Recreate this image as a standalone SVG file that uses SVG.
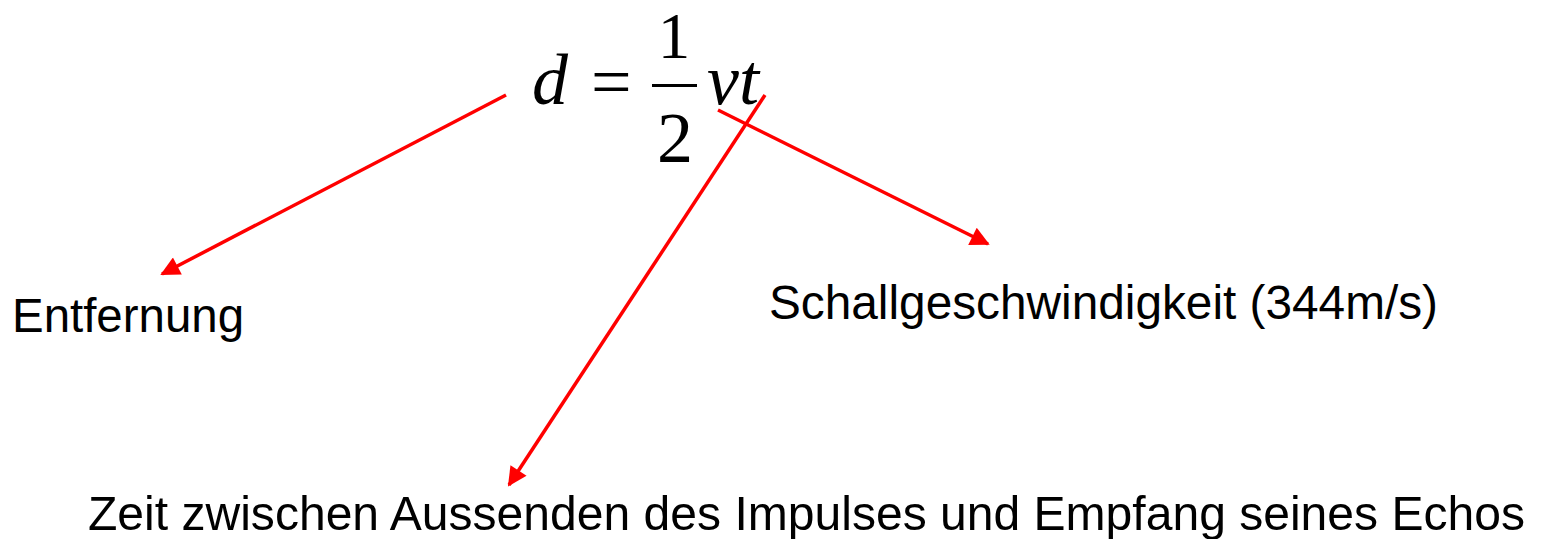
<svg xmlns="http://www.w3.org/2000/svg" width="1545" height="539" viewBox="0 0 1545 539">
<style>
.lbl{font-family:"Liberation Sans",Arial,sans-serif;font-size:48px;fill:#000}
.math{font-family:"Liberation Serif","Times New Roman",serif;font-size:72px;fill:#000}
.it{font-style:italic}
.conn{stroke:#FF0000;stroke-width:3.5;fill:none}
</style>
<defs>
<marker id="ah" viewBox="0 0 10 10" refX="9" refY="5" markerWidth="6.5" markerHeight="5.5" orient="auto" markerUnits="strokeWidth">
<path d="M0,0 L10,5 L0,10 z" fill="#FF0000"/>
</marker>
</defs>
<rect width="1545" height="539" fill="#fff"/>
<g id="formula">
<text class="math it" x="532" y="104">d</text>
<text class="math" x="591" y="106">=</text>
<text class="math" x="674" y="58" text-anchor="middle" style="font-size:65px">1</text>
<rect x="652" y="84" width="45" height="3" fill="#000"/>
<text class="math" x="675" y="162" text-anchor="middle">2</text>
<text class="math it" x="707" y="104">vt</text>
</g>
<g id="entfernung"><text class="lbl" x="12" y="332" textLength="232" lengthAdjust="spacingAndGlyphs">Entfernung</text></g>
<g id="schall"><text class="lbl" x="769" y="319" textLength="669" lengthAdjust="spacingAndGlyphs">Schallgeschwindigkeit (344m/s)</text></g>
<g id="zeit"><text class="lbl" x="88" y="530" textLength="1437" lengthAdjust="spacingAndGlyphs">Zeit zwischen Aussenden des Impulses und Empfang seines Echos</text></g>
<g id="connectors">
<line class="conn" x1="506" y1="95" x2="162" y2="274" marker-end="url(#ah)"/>
<line class="conn" x1="718" y1="110" x2="988" y2="244" marker-end="url(#ah)"/>
<line class="conn" x1="765" y1="95" x2="509" y2="485" marker-end="url(#ah)"/>
</g>
</svg>
